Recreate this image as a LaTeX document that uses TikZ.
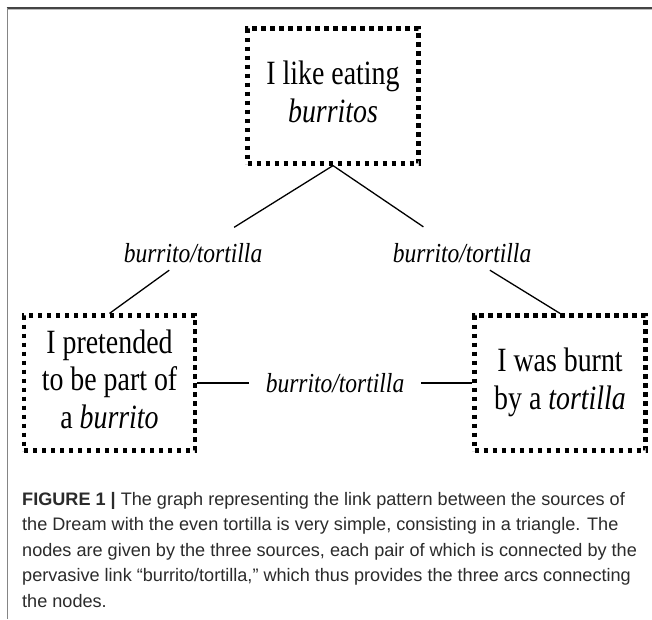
\documentclass[tikz,border=0pt]{standalone}
\usepackage{fontspec}
\setmainfont{Liberation Serif}
\newfontfamily\capfont{Liberation Sans}
\definecolor{captext}{HTML}{2B2B2B}
\definecolor{framedark}{HTML}{444444}
\definecolor{framelight}{HTML}{BBBBBB}
\definecolor{frameleft}{HTML}{858585}
\begin{document}
\begin{tikzpicture}[x=1pt,y=-1pt,
  src/.style={draw, line width=4.2pt, dash pattern=on 4.2pt off 4.8pt,
    minimum width=171pt, minimum height=135pt, inner sep=0pt,
    font=\fontsize{34}{37.5}\selectfont},
  lnk/.style={inner sep=0pt, font=\fontsize{27.5}{30}\selectfont\itshape},
  conn/.style={line width=1.3pt},
  captionline/.style={anchor=base west, inner sep=0pt, text=captext,
    font=\capfont\fontsize{18.1}{25.5}\selectfont}]
\useasboundingbox (0,0) rectangle (652,619);
\fill[white] (0,0) rectangle (652,619);
% frame of the figure panel
\draw[framedark, line width=1.1pt] (6.5,8) -- (652,8);
\draw[framelight, line width=0.9pt] (8,9.4) -- (652,9.4);
\draw[frameleft, line width=1.4pt] (7.2,8) -- (7.2,619);
% sources
\node[src] (top) at (333,96) {\scalebox{0.82}[1]{\begin{tabular}{@{}c@{}}I like eating\\\textit{burritos}\end{tabular}}};
\node[src] (left) at (109.5,383) {\scalebox{0.82}[1]{\begin{tabular}{@{}c@{}}I pretended\\to be part of\\a \textit{burrito}\end{tabular}}};
\node[src] (right) at (560,383) {\scalebox{0.82}[1]{\begin{tabular}{@{}c@{}}I was burnt\\by a \textit{tortilla}\end{tabular}}};
% links
\node[lnk, minimum height=34pt] (l1) at (193,253) {\scalebox{0.855}[1]{burrito/tortilla}};
\node[lnk, minimum height=34pt] (l2) at (462,253) {\scalebox{0.855}[1]{burrito/tortilla}};
\node[lnk, minimum width=172pt] (l3) at (335,383) {\scalebox{0.855}[1]{burrito/tortilla}};
% connectors
\draw[conn, shorten >=16pt] (top.south) -- (l1);
\draw[conn, shorten >=16pt] (top.south) -- (l2);
\draw[conn] (l1) -- (left.north);
\draw[conn] (l2) -- (right.north);
\draw[conn] (left) -- (l3) -- (right);
% caption
\node[captionline] (cap1) at (22,505) {\textbf{FIGURE 1 |} The graph representing the link pattern between the sources of};
\node[captionline] (cap2) at (22,530.5) {the Dream with the even tortilla is very simple, consisting in a triangle. The};
\node[captionline] (cap3) at (22,556) {nodes are given by the three sources, each pair of which is connected by the};
\node[captionline] (cap4) at (22,581.5) {pervasive link “burrito/tortilla,” which thus provides the three arcs connecting};
\node[captionline] (cap5) at (22,607) {the nodes.};
\end{tikzpicture}
\end{document}
